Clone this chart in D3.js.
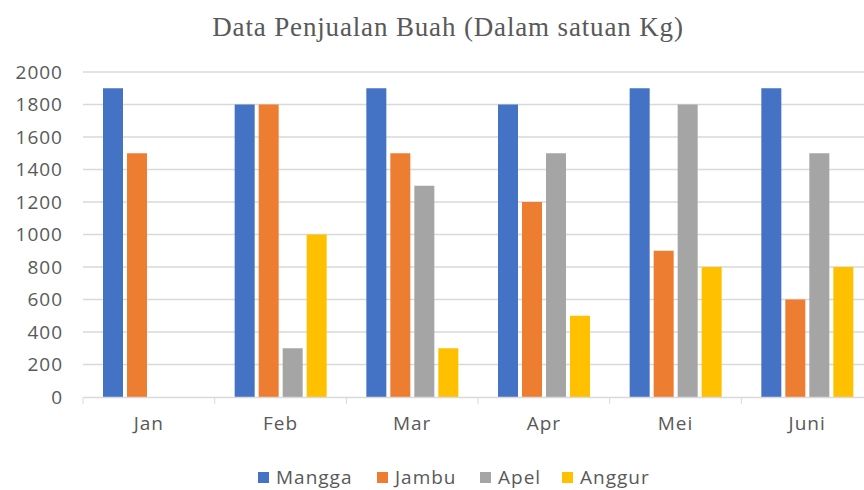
<!DOCTYPE html>
<html>
<head>
	<meta charset="utf-8">
	<style>
		body { margin: 0; background: #fff; }
		svg { display: block; }
		.title { font-family: "Liberation Serif", serif; font-size: 27px; fill: #595959; letter-spacing: 0.85px; }
		.axis text { font-family: "Open Sans", sans-serif; font-size: 19px; fill: #595959; letter-spacing: 1px; }
		.axis path, .axis line { stroke: #d9d9d9; }
		.grid line { stroke: #d9d9d9; stroke-width: 1.3px; }
		.legend text { font-family: "Open Sans", sans-serif; font-size: 19px; fill: #595959; letter-spacing: 1px; }
	</style>
</head>
<body>
<script src="https://cdn.jsdelivr.net/npm/d3@7"></script>
<script>
	var months = ["Jan", "Feb", "Mar", "Apr", "Mei", "Juni"];
	var fruits = ["Mangga", "Jambu", "Apel", "Anggur"];
	var mangga = [1900, 1800, 1900, 1800, 1900, 1900];
	var jambu  = [1500, 1800, 1500, 1200, 900, 600];
	var apel   = [0, 300, 1300, 1500, 1800, 1500];
	var anggur = [0, 1000, 300, 500, 800, 800];
	var yTicks = [0, 200, 400, 600, 800, 1000, 1200, 1400, 1600, 1800, 2000];
	var colors = ["#4472c4", "#ed7d31", "#a5a5a5", "#ffc000"];

	var series = [mangga, jambu, apel, anggur];
	var rows = months.map(function(m, i) {
		return { month: m, values: fruits.map(function(f, j) { return { key: f, value: series[j][i] }; }) };
	});

	var width = 864, height = 490;
	var margin = {top: 72, bottom: 93, left: 83};
	var plotRight = 873; // plot area runs slightly past the right edge

	var svg = d3.select("body").append("svg")
		.attr("width", width)
		.attr("height", height);

	svg.append("text")
		.attr("class", "title")
		.attr("x", 448)
		.attr("y", 36)
		.attr("text-anchor", "middle")
		.text("Data Penjualan Buah (Dalam satuan Kg)");

	var x0 = d3.scaleBand()
		.domain(months)
		.range([margin.left, plotRight]);
	var x1 = d3.scaleBand()
		.domain(fruits)
		.range([20, 112])
		.paddingInner(1 / 6);
	var y = d3.scaleLinear()
		.domain([0, 2000])
		.range([height - margin.bottom, margin.top]);
	var color = d3.scaleOrdinal().domain(fruits).range(colors);

	// gridlines
	svg.append("g")
		.attr("class", "grid")
		.selectAll("line")
		.data(yTicks.slice(1))
		.enter().append("line")
			.attr("x1", margin.left)
			.attr("x2", width)
			.attr("y1", function(d) { return y(d); })
			.attr("y2", function(d) { return y(d); });

	// y axis labels
	var yAxis = d3.axisLeft(y).tickValues(yTicks).tickFormat(d3.format("d")).tickSize(0).tickPadding(20);
	svg.append("g")
		.attr("class", "axis")
		.attr("transform", "translate(" + margin.left + ",0)")
		.call(yAxis)
		.call(function(g) { g.select(".domain").remove(); });

	// bars
	var groups = svg.append("g").selectAll("g")
		.data(rows)
		.enter().append("g")
			.attr("transform", function(d) { return "translate(" + x0(d.month) + ",0)"; });
	groups.selectAll("rect")
		.data(function(d) { return d.values.filter(function(v) { return v.value > 0; }); })
		.enter().append("rect")
			.attr("x", function(d) { return x1(d.key); })
			.attr("y", function(d) { return y(d.value); })
			.attr("width", x1.bandwidth())
			.attr("height", function(d) { return y(0) - y(d.value); })
			.attr("fill", function(d) { return color(d.key); });

	// x axis
	var xAxis = d3.axisBottom(x0).tickSize(0).tickPadding(20);
	var xg = svg.append("g")
		.attr("class", "axis")
		.attr("transform", "translate(0," + y(0) + ")")
		.call(xAxis);
	xg.select(".domain").attr("stroke-width", 1.3);
	xg.selectAll(".sep")
		.data(months)
		.enter().append("line")
			.attr("class", "sep")
			.attr("x1", function(d) { return x0(d); })
			.attr("x2", function(d) { return x0(d); })
			.attr("y1", 0)
			.attr("y2", 7);

	// legend
	var legendX = [258, 377, 480, 562];
	var legend = svg.append("g")
		.attr("class", "legend")
		.selectAll("g")
		.data(fruits)
		.enter().append("g")
			.attr("transform", function(d, i) { return "translate(" + legendX[i] + ",472)"; });
	legend.append("rect")
		.attr("width", 11)
		.attr("height", 11)
		.attr("fill", function(d) { return color(d); });
	legend.append("text")
		.attr("x", 18)
		.attr("y", 12)
		.text(function(d) { return d; });
</script>
</body>
</html>
